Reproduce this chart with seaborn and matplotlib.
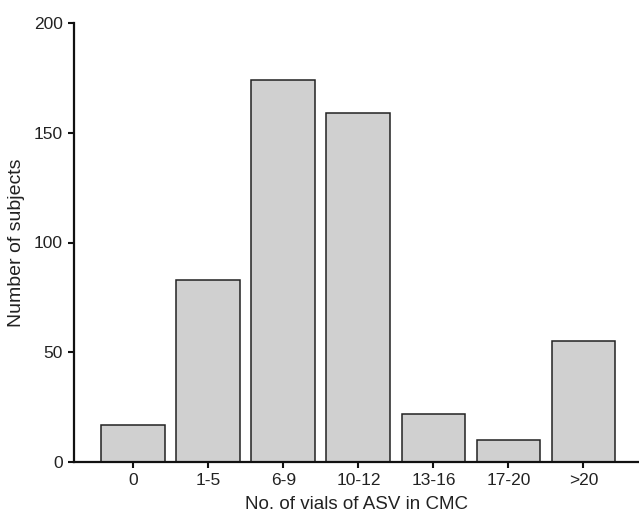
import matplotlib
matplotlib.use("Agg")
import matplotlib.pyplot as plt
import seaborn as sns
import pandas as pd

categories = ["0", "1-5", "6-9", "10-12", "13-16", "17-20", ">20"]
subjects = [17, 83, 174, 159, 22, 10, 55]
y_ticks = [0, 50, 100, 150, 200]

df = pd.DataFrame({"vials": categories, "n": subjects})

sns.set_theme(style="ticks")
plt.rcParams["font.family"] = ["Liberation Sans", "DejaVu Sans"]

fig = plt.figure(figsize=(6.39, 5.18), dpi=100)
ax = fig.add_axes([74/639, 56/518, (639-74)/639, (462-23)/518])

sns.barplot(data=df, x="vials", y="n", order=categories, color="#d0d0d0",
            edgecolor="#222222", linewidth=1.1, width=0.85, saturation=1, ax=ax)

ax.set_ylim(0, 200)
ax.set_xlim(-0.79, 6.74)
ax.set_yticks(y_ticks)
ax.set_yticklabels([str(t) for t in y_ticks])
ax.tick_params(axis="both", direction="out", length=4, width=1.5, color="#111111",
               labelsize=12.5, pad=4, labelcolor="#222222")
for s in ["top", "right"]:
    ax.spines[s].set_visible(False)
for s in ["left", "bottom"]:
    ax.spines[s].set_linewidth(1.6)
    ax.spines[s].set_color("#111111")

ax.set_xlabel("No. of vials of ASV in CMC", fontsize=13.5, color="#222222", labelpad=6)
ax.set_ylabel("Number of subjects", fontsize=14, color="#222222", labelpad=6)

fig.savefig("out.png", dpi=100)
